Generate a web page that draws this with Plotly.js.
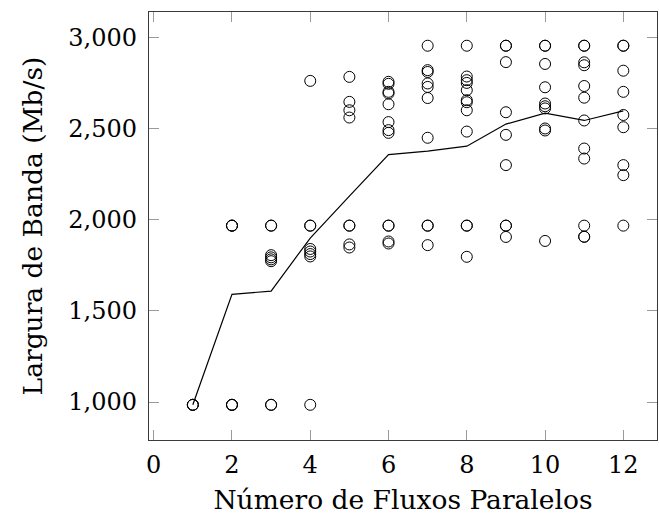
<!DOCTYPE html>
<html>
<head>
<meta charset="utf-8">
<script src="https://cdn.plot.ly/plotly-3.0.1.min.js"></script>
<style>html,body{margin:0;padding:0;background:#fff;}</style>
</head>
<body>
<div id="chart" style="width:659px;height:523px;"></div>
<script>
// Scatter samples: parallel flows (x) and measured bandwidth in Mb/s (y)
const flows1 = [1,1,1];
const bw1 = [985,985,985];
const flows2 = [2,2,2,2,2,2];
const bw2 = [1968,1968,1968,985,985,985];
const flows3 = [3,3,3,3,3,3,3,3];
const bw3 = [1968,1968,1806,1794,1783,1773,985,985];
const flows4 = [4,4,4,4,4,4,4,4];
const bw4 = [2762,1968,1968,1840,1826,1812,1799,985];
const flows5 = [5,5,5,5,5,5,5,5];
const bw5 = [2784,2647,2601,2561,1968,1968,1865,1848];
const flows6 = [6,6,6,6,6,6,6,6,6,6,6,6];
const bw6 = [2757,2746,2702,2693,2634,2536,2492,2477,1968,1968,1881,1870];
const flows7 = [7,7,7,7,7,7,7,7,7,7];
const bw7 = [2955,2821,2811,2748,2729,2668,2450,1968,1968,1861];
const flows8 = [8,8,8,8,8,8,8,8,8,8,8,8];
const bw8 = [2955,2786,2766,2751,2711,2656,2645,2601,2484,1968,1968,1797];
const flows9 = [9,9,9,9,9,9,9,9,9];
const bw9 = [2955,2955,2865,2590,2466,2300,1968,1968,1906];
const flows10 = [10,10,10,10,10,10,10,10,10,10];
const bw10 = [2955,2955,2855,2727,2638,2623,2611,2501,2490,1884];
const flows11 = [11,11,11,11,11,11,11,11,11,11,11,11];
const bw11 = [2955,2955,2864,2848,2734,2670,2545,2391,2336,1968,1907,1907];
const flows12 = [12,12,12,12,12,12,12,12,12];
const bw12 = [2955,2955,2818,2702,2575,2508,2300,2245,1968];

// Mean line
const meanFlows = [1,2,3,4,5,6,7,8,9,10,11,12];
const meanBw = [985,1591,1609,1900,2130,2358,2377,2404,2525,2585,2545,2598];

const xTicks = [0,2,4,6,8,10,12];
const yTicks = [1000,1500,2000,2500,3000];
const yTickText = ["1,000","1,500","2,000","2,500","3,000"];

const scatterX = [].concat(flows1,flows2,flows3,flows4,flows5,flows6,flows7,flows8,flows9,flows10,flows11,flows12);
const scatterY = [].concat(bw1,bw2,bw3,bw4,bw5,bw6,bw7,bw8,bw9,bw10,bw11,bw12);

const font = "DejaVu Serif, Liberation Serif, serif";

const traces = [
  {
    x: scatterX, y: scatterY, type: 'scatter', mode: 'markers',
    marker: {symbol: 'circle-open', size: 11, color: '#000', line: {width: 1, color: '#000'}},
    hoverinfo: 'x+y', showlegend: false
  },
  {
    x: meanFlows, y: meanBw, type: 'scatter', mode: 'lines',
    line: {color: '#000', width: 1.2}, showlegend: false
  }
];

const axisCommon = {
  showline: true, linecolor: '#3a3a3a', linewidth: 1.2, mirror: 'ticks',
  ticks: 'inside', ticklen: 10, tickwidth: 1, tickcolor: '#9a9a9a',
  showgrid: false, zeroline: false,
  tickfont: {family: font, size: 24, color: '#000'}
};

const layout = {
  width: 659, height: 523,
  margin: {l: 149, r: 2, t: 12, b: 83},
  paper_bgcolor: '#fff', plot_bgcolor: '#fff',
  xaxis: Object.assign({}, axisCommon, {
    range: [-0.12, 12.86], tickvals: xTicks, ticktext: xTicks.map(String),
    ticklabelstandoff: 3,
    title: {text: 'Número de Fluxos Paralelos', font: {family: font, size: 26.5, color: '#000'}, standoff: 12}
  }),
  yaxis: Object.assign({}, axisCommon, {
    range: [792, 3140], tickvals: yTicks, ticktext: yTickText,
    ticklabelstandoff: 6,
    title: {text: 'Largura de Banda (Mb/s)', font: {family: font, size: 26.5, color: '#000'}, standoff: 18}
  })
};

Plotly.newPlot('chart', traces, layout, {displayModeBar: false, staticPlot: true});
</script>
</body>
</html>
